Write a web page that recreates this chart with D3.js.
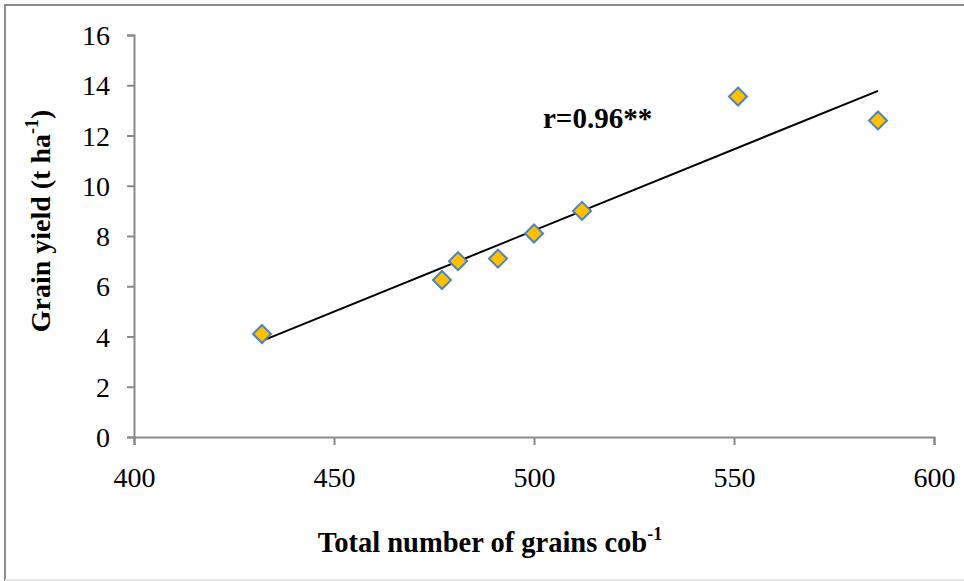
<!DOCTYPE html>
<html>
<head>
<meta charset="utf-8">
<script src="https://cdn.jsdelivr.net/npm/d3@7"></script>
</head>
<body style="margin:0; background:#fff">
<svg id="chart" width="964" height="581" style="display:block"></svg>
<script>
// Grains per cob vs grain yield
const grainsPerCob = [432, 477, 481, 491, 500, 512, 551, 586];
const grainYield   = [4.1, 6.25, 7.0, 7.1, 8.1, 9.0, 13.55, 12.6];
const xTicks = [400, 450, 500, 550, 600];
const yTicks = [0, 2, 4, 6, 8, 10, 12, 14, 16];
const corrLabel = "r=0.96**";

const serif = "'Liberation Serif'";
const svg = d3.select("#chart");

// outer frame
svg.append("rect")
  .attr("x", 5).attr("y", 5).attr("width", 980).attr("height", 575)
  .attr("fill", "none").attr("stroke", "#8c8c8c").attr("stroke-width", 2);
svg.append("line")
  .attr("x1", 5).attr("x2", 964).attr("y1", 580).attr("y2", 580)
  .attr("stroke", "#e6e6e6").attr("stroke-width", 2);

const x = d3.scaleLinear().domain([400, 600]).range([134, 934]);
const y = d3.scaleLinear().domain([0, 16]).range([437, 35]);

const axisColor = "#898989";

// x axis
const gx = svg.append("g").attr("transform", `translate(0,${y(0)})`)
  .call(d3.axisBottom(x).tickValues(xTicks).tickSize(8).tickPadding(22).tickFormat(d3.format("d")));
// y axis
const gy = svg.append("g").attr("transform", `translate(${x(400)},0)`)
  .call(d3.axisLeft(y).tickValues(yTicks).tickSize(7).tickPadding(17).tickFormat(d3.format("d")));

[gx, gy].forEach(g => {
  g.attr("font-family", null).attr("font-size", null);
  g.select(".domain").attr("stroke", axisColor).attr("stroke-width", 2);
  g.selectAll(".tick line").attr("stroke", axisColor).attr("stroke-width", 2);
  g.selectAll(".tick text")
    .style("font-family", serif).style("font-size", "28px").attr("fill", "#000");
});
gx.selectAll(".tick text").attr("dy", "0.71em");
gy.selectAll(".tick text").attr("dy", "0.34em");

// least-squares trend line
const n = grainsPerCob.length;
const mx = d3.mean(grainsPerCob), my = d3.mean(grainYield);
let sxy = 0, sxx = 0;
for (let i = 0; i < n; i++) {
  sxy += (grainsPerCob[i] - mx) * (grainYield[i] - my);
  sxx += (grainsPerCob[i] - mx) ** 2;
}
const slope = sxy / sxx, intercept = my - slope * mx;
const xMin = d3.min(grainsPerCob), xMax = d3.max(grainsPerCob);

svg.append("line")
  .attr("x1", x(xMin)).attr("y1", y(intercept + slope * xMin))
  .attr("x2", x(xMax)).attr("y2", y(intercept + slope * xMax))
  .attr("stroke", "#000").attr("stroke-width", 2);

// diamond markers
const pts = grainsPerCob.map((v, i) => [v, grainYield[i]]);
const r = 9;
svg.append("g").selectAll("path").data(pts).join("path")
  .attr("d", d => `M${x(d[0])},${y(d[1]) - r}L${x(d[0]) + r},${y(d[1])}L${x(d[0])},${y(d[1]) + r}L${x(d[0]) - r},${y(d[1])}Z`)
  .attr("fill", "#FFC000").attr("stroke", "#4F81BD").attr("stroke-width", 2);

// correlation label
svg.append("text")
  .attr("x", 543).attr("y", 128)
  .style("font-family", serif).style("font-size", "29px").style("font-weight", "bold")
  .text(corrLabel);

// x axis title
const xt = svg.append("text")
  .attr("x", 490).attr("y", 552)
  .attr("text-anchor", "middle")
  .style("font-family", serif).style("font-size", "28.5px").style("font-weight", "bold");
xt.append("tspan").text("Total number of grains cob");
xt.append("tspan").style("font-size", "18px").attr("dy", -12).text("-1");

// y axis title
const yt = svg.append("text")
  .attr("transform", "translate(50,221) rotate(-90)")
  .attr("text-anchor", "middle")
  .style("font-family", serif).style("font-size", "28px").style("font-weight", "bold");
yt.append("tspan").text("Grain yield (t ha");
yt.append("tspan").style("font-size", "18px").attr("dy", -12).text("-1");
yt.append("tspan").attr("dy", 12).text(")");
</script>
</body>
</html>
